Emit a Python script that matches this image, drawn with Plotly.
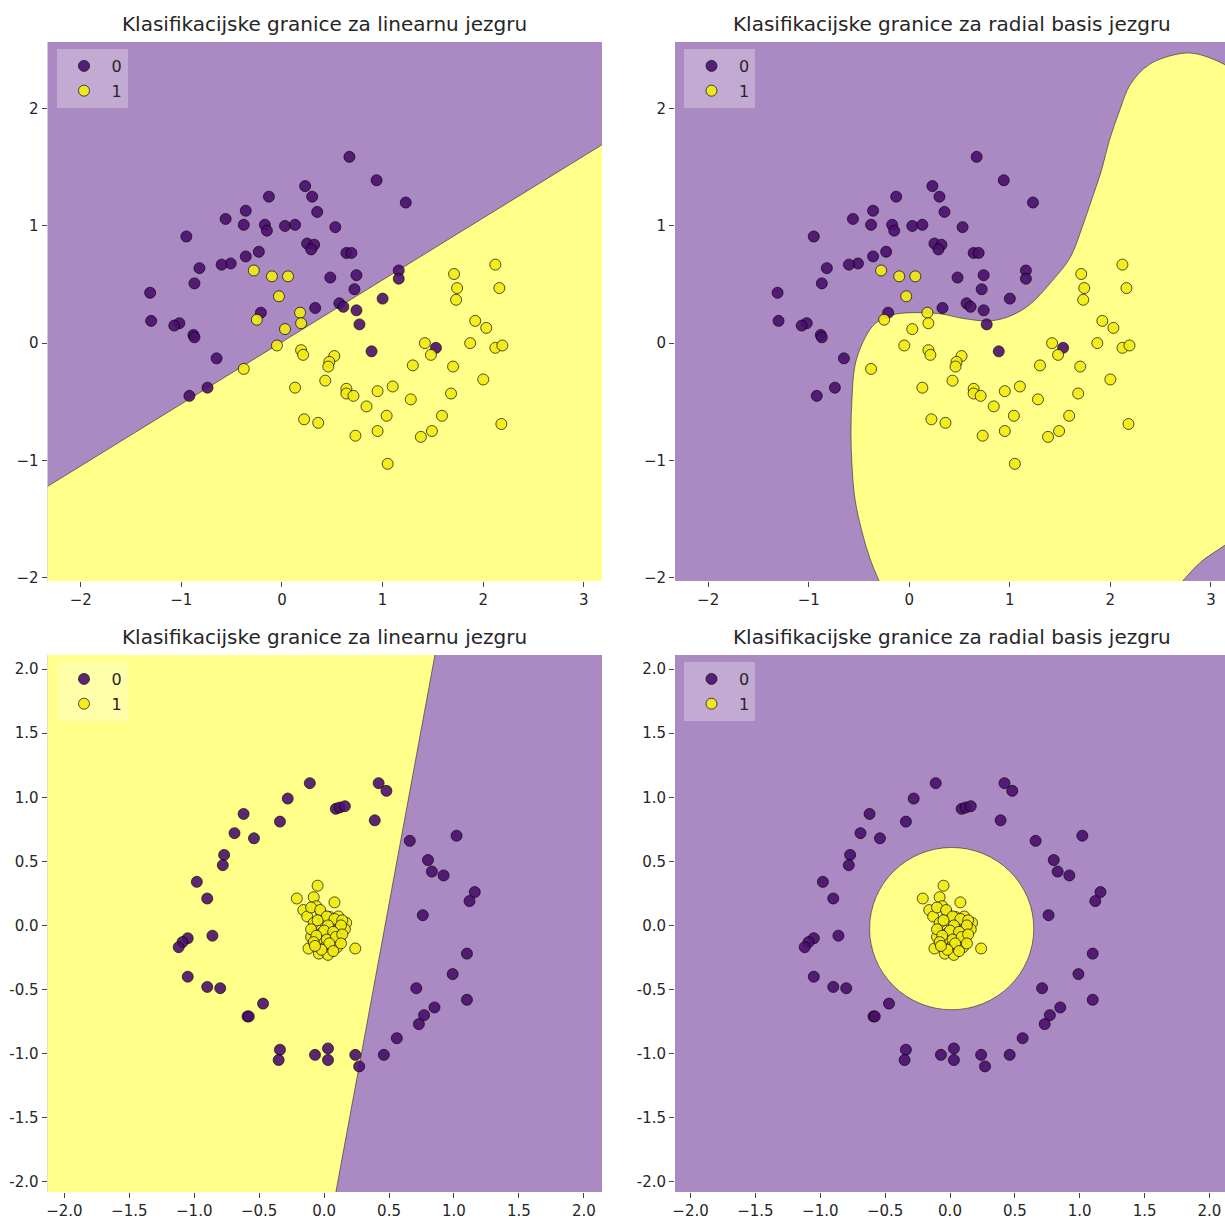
import plotly.graph_objects as go

# ---------------- data ----------------
# "moons" data set (top row)
moon0_x = [0.67, 0.94, 1.23, 0.23, 0.30, -0.13, -0.36, 0.35, -0.56, -0.38, -0.17, -0.15, 0.03, 0.13, 0.53,
           -0.95, 0.25, 0.32, 0.29, 0.64, 0.69, -0.23, -0.36, -0.51, -0.60, -0.82, 1.16, 1.16, 0.74, 0.48,
           -0.87, 0.72, -1.31, 1.00, 0.33, 0.57, 0.61, 0.74, -0.21, 0.77, -1.30, -1.02, -1.07, -0.88, -0.87,
           0.89, 1.53, -0.65, -0.74, -0.92]
moon0_y = [1.59, 1.39, 1.20, 1.34, 1.25, 1.25, 1.13, 1.12, 1.06, 1.01, 1.01, 0.96, 1.00, 1.01, 0.99,
           0.91, 0.85, 0.84, 0.80, 0.77, 0.77, 0.78, 0.74, 0.68, 0.67, 0.64, 0.62, 0.55, 0.58, 0.56,
           0.51, 0.46, 0.43, 0.38, 0.30, 0.34, 0.31, 0.28, 0.26, 0.16, 0.19, 0.17, 0.15, 0.07, 0.05,
           -0.07, -0.04, -0.13, -0.38, -0.45]
moon1_x = [-0.28, -0.10, 0.06, -0.03, -0.25, 0.18, 0.19, 0.03, -0.05, -0.38, 0.19, 0.21, 0.52, 0.47, 0.46,
           0.43, 0.13, 0.64, 0.64, 0.71, 0.84, 0.95, 1.10, 1.04, 0.22, 0.36, 0.73, 0.95, 1.05, 1.28,
           1.30, 1.42, 1.48, 1.38, 1.49, 1.59, 1.68, 1.70, 1.71, 1.74, 1.73, 2.12, 2.16, 1.92, 2.03,
           1.87, 2.12, 2.19, 2.00, 2.18]
moon1_y = [0.62, 0.57, 0.57, 0.40, 0.20, 0.26, 0.17, 0.12, -0.02, -0.22, -0.06, -0.10, -0.11, -0.16, -0.20,
           -0.32, -0.38, -0.39, -0.43, -0.45, -0.54, -0.41, -0.37, -0.62, -0.65, -0.68, -0.79, -0.75, -1.03, -0.48,
           -0.19, 0.00, -0.10, -0.80, -0.75, -0.62, -0.43, -0.20, 0.59, 0.47, 0.37, 0.67, 0.47, 0.19, 0.13,
           0.00, -0.04, -0.02, -0.31, -0.69]

# "circles" data set (bottom row)
circ0_x = [-0.11, 0.42, 0.48, -0.28, 0.09, 0.12, 0.16, -0.62, -0.34, 0.39, -0.69, -0.54, 0.66, 1.02, -0.77,
           -0.78, 0.80, 0.83, 0.92, -0.98, -0.90, 1.16, 1.12, 0.76, -1.05, -1.09, -1.12, -0.86, -1.05, -0.90,
           -0.80, 1.10, 0.99, 0.71, 1.10, 0.85, -0.47, -0.59, -0.58, 0.77, 0.73, 0.56, -0.34, -0.35, -0.07,
           0.03, 0.03, 0.24, 0.27, 0.46]
circ0_y = [1.11, 1.11, 1.05, 0.99, 0.91, 0.92, 0.93, 0.87, 0.81, 0.82, 0.72, 0.68, 0.66, 0.70, 0.55,
           0.47, 0.51, 0.42, 0.39, 0.34, 0.21, 0.26, 0.19, 0.08, -0.10, -0.13, -0.17, -0.08, -0.40, -0.48,
           -0.49, -0.22, -0.38, -0.49, -0.58, -0.64, -0.61, -0.71, -0.71, -0.70, -0.77, -0.88, -0.97, -1.05, -1.01,
           -0.96, -1.05, -1.01, -1.10, -1.01]
circ1_x = [-0.05, -0.21, -0.08, 0.08, -0.16, -0.06, -0.13, -0.02, 0.045, 0.11, -0.08, 0.00, 0.17, 0.05, 0.11,
           0.16, -0.08, -0.02, 0.05, -0.05, 0.12, -0.12, 0.01, 0.10, 0.24, -0.04, 0.03, -0.10, 0.08, -0.10,
           -0.03, 0.02, 0.08, 0.14, -0.05, 0.03, 0.13, -0.10, 0.00, 0.07, -0.06, 0.02, 0.09, 0.14, -0.08,
           0.04, 0.13, -0.02, 0.07, -0.07]
circ1_y = [0.31, 0.21, 0.22, 0.18, 0.12, 0.15, 0.07, 0.09, 0.065, 0.07, 0.02, 0.03, 0.02, -0.01, -0.03,
           -0.03, -0.065, -0.06, -0.09, -0.11, -0.10, -0.18, -0.17, -0.17, -0.18, -0.22, -0.23, -0.09, -0.13, 0.14,
           0.12, 0.07, 0.05, 0.04, 0.04, 0.00, 0.00, -0.03, -0.04, -0.05, -0.08, -0.11, -0.09, -0.07, -0.13,
           -0.14, -0.14, -0.19, -0.20, -0.16]

class_labels = ["0", "1"]

# decision boundaries
lin_moons_bx = [-2.40, 3.25]
lin_moons_by = [-1.26, 1.73]
lin_circ_bx = [0.87, 0.08]
lin_circ_by = [2.20, -2.14]
rbf_moons_bx = [-0.29, -0.39, -0.47, -0.54, -0.57, -0.58, -0.57, -0.54, -0.46, -0.36, -0.26, -0.12, 0.08,
                0.31, 0.54, 0.80, 1.00, 1.20, 1.43, 1.60, 1.72, 1.82, 1.91, 1.99, 2.09, 2.20, 2.39, 2.69,
                2.85, 3.13, 3.25]
rbf_moons_by = [-2.05, -1.84, -1.61, -1.33, -1.04, -0.76, -0.48, -0.19, 0.01, 0.15, 0.21, 0.25, 0.26,
                0.25, 0.21, 0.19, 0.23, 0.33, 0.54, 0.73, 0.99, 1.24, 1.47, 1.73, 1.98, 2.21, 2.38, 2.47,
                2.47, 2.38, 2.30]
rbf_moons_b2x = [3.25, 3.13, 2.91, 2.74, 2.70]
rbf_moons_b2y = [-1.65, -1.73, -1.86, -2.01, -2.05]
rbf_circ_cx, rbf_circ_cy, rbf_circ_r = 0.013, -0.025, 0.633

# ranges of the four panels
moons_xr = [-2.33, 3.18]
moons_xr_right = [-2.33, 3.14]
moons_yr = [-2.03, 2.57]
circ_xr = [-2.13, 2.14]
circ_xr_right = [-2.12, 2.12]
circ_yr = [-2.08, 2.11]
circ_ticks = [-2.0, -1.5, -1.0, -0.5, 0.0, 0.5, 1.0, 1.5, 2.0]
circ_yticktext = ["-2.0", "-1.5", "-1.0", "-0.5", "0.0", "0.5", "1.0", "1.5", "2.0"]

titles = ["Klasifikacijske granice za linearnu jezgru", "Klasifikacijske granice za radial basis jezgru",
          "Klasifikacijske granice za linearnu jezgru", "Klasifikacijske granice za radial basis jezgru"]

# ---------------- style ----------------
W, H = 1225, 1220
PURPLE_BG = "#ab8ac3"
YELLOW_BG = "#ffff8a"
PT_PURPLE = "#4b0f6e"
PT_YELLOW = "#f3ec12"
EDGE = "rgba(0,0,0,0.75)"
BLINE = "rgba(40,40,40,0.6)"
FONT = "DejaVu Sans"

def px_x(p):
    return p / W

def px_y(p):
    return 1 - p / H

panels = {
    1: dict(x=(47.5, 602), y=(42, 581)),
    2: dict(x=(675, 1225), y=(42, 581)),
    3: dict(x=(47.5, 602), y=(655, 1192)),
    4: dict(x=(675, 1225), y=(655, 1192)),
}

fig = go.Figure()

def ax(i):
    return ("x" if i == 1 else f"x{i}"), ("y" if i == 1 else f"y{i}")

def add_points(i, x0, y0, x1, y1):
    xa, ya = ax(i)
    lg = "legend" if i == 1 else f"legend{i}"
    for xs, ys, col, lab in [(x0, y0, PT_PURPLE, class_labels[0]), (x1, y1, PT_YELLOW, class_labels[1])]:
        fig.add_trace(go.Scatter(x=xs, y=ys, mode="markers", name=lab, xaxis=xa, yaxis=ya,
                                 legend=lg, legendgroup=f"{i}-{lab}",
                                 marker=dict(size=11, color=col, opacity=0.9, line=dict(width=1, color=EDGE)),
                                 hoverinfo="skip"))

def add_fill(i, xs, ys, shape="linear"):
    xa, ya = ax(i)
    fig.add_trace(go.Scatter(x=xs, y=ys, mode="lines", fill="toself", fillcolor=YELLOW_BG,
                             line=dict(width=0, shape=shape, color=YELLOW_BG), xaxis=xa, yaxis=ya,
                             showlegend=False, hoverinfo="skip"))

def add_bline(i, xs, ys, shape="linear"):
    xa, ya = ax(i)
    fig.add_trace(go.Scatter(x=xs, y=ys, mode="lines", line=dict(width=1, color=BLINE, shape=shape),
                             xaxis=xa, yaxis=ya, showlegend=False, hoverinfo="skip"))

# panel 1: linear, moons (yellow below the line)
add_fill(1, lin_moons_bx + [lin_moons_bx[1], lin_moons_bx[0]],
         lin_moons_by + [moons_yr[0] - 0.5, moons_yr[0] - 0.5])
add_bline(1, lin_moons_bx, lin_moons_by)
add_points(1, moon0_x, moon0_y, moon1_x, moon1_y)

# panel 2: rbf, moons
add_fill(2, rbf_moons_bx + rbf_moons_b2x + [2.5, -0.1],
         rbf_moons_by + rbf_moons_b2y + [moons_yr[0] - 0.5, moons_yr[0] - 0.5], shape="spline")
add_bline(2, rbf_moons_bx, rbf_moons_by, shape="spline")
add_bline(2, rbf_moons_b2x, rbf_moons_b2y, shape="spline")
add_points(2, moon0_x, moon0_y, moon1_x, moon1_y)

# panel 3: linear, circles (yellow left of the line)
add_fill(3, lin_circ_bx + [circ_xr[0] - 0.5, circ_xr[0] - 0.5],
         lin_circ_by + [lin_circ_by[1], lin_circ_by[0]])
add_bline(3, lin_circ_bx, lin_circ_by)
add_points(3, circ0_x, circ0_y, circ1_x, circ1_y)

# panel 4: rbf, circles (yellow disc)
fig.add_shape(type="circle", xref="x4", yref="y4",
              x0=rbf_circ_cx - rbf_circ_r, x1=rbf_circ_cx + rbf_circ_r,
              y0=rbf_circ_cy - rbf_circ_r, y1=rbf_circ_cy + rbf_circ_r,
              fillcolor=YELLOW_BG, line=dict(width=1, color=BLINE), layer="below")
add_points(4, circ0_x, circ0_y, circ1_x, circ1_y)

axis_common = dict(showgrid=False, zeroline=False, showline=False, ticks="outside", ticklen=5,
                   tickwidth=1, tickcolor="#444", automargin=False,
                   tickfont=dict(family=FONT, size=15, color="#262626"))

layout = dict(width=W, height=H, margin=dict(l=0, r=0, t=0, b=0), template="none",
              paper_bgcolor="white", plot_bgcolor=PURPLE_BG, showlegend=True)

ranges = {1: (moons_xr, moons_yr, 1), 2: (moons_xr_right, moons_yr, 1),
          3: (circ_xr, circ_yr, 0.5), 4: (circ_xr_right, circ_yr, 0.5)}

annotations = []
for i in range(1, 5):
    p = panels[i]
    xr, yr, dt = ranges[i]
    fmt = "" if dt == 1 else ".1f"
    xk = "xaxis" if i == 1 else f"xaxis{i}"
    yk = "yaxis" if i == 1 else f"yaxis{i}"
    ya_name = "y" if i == 1 else f"y{i}"
    xa_name = "x" if i == 1 else f"x{i}"
    layout[xk] = dict(axis_common, domain=[px_x(p["x"][0]), px_x(p["x"][1])], range=xr, dtick=dt,
                      tick0=0, tickformat=fmt, anchor=ya_name)
    if dt == 1:
        layout[yk] = dict(axis_common, domain=[px_y(p["y"][1]), px_y(p["y"][0])], range=yr, dtick=dt,
                          tick0=0, anchor=xa_name)
    else:
        layout[yk] = dict(axis_common, domain=[px_y(p["y"][1]), px_y(p["y"][0])], range=yr,
                          tickmode="array", tickvals=circ_ticks, ticktext=circ_yticktext, anchor=xa_name)
    lg = "legend" if i == 1 else f"legend{i}"
    layout[lg] = dict(x=px_x(p["x"][0] + 9), y=px_y(p["y"][0] + 7), xanchor="left", yanchor="top",
                      bgcolor="rgba(255,255,255,0.28)", borderwidth=0, tracegroupgap=1,
                      traceorder="grouped", itemwidth=45,
                      font=dict(family=FONT, size=16, color="#262626"))
    cx = (p["x"][0] + (p["x"][1] if i in (1, 3) else 1229)) / 2
    annotations.append(dict(text=titles[i - 1], xref="paper", yref="paper", x=px_x(cx),
                            y=px_y(p["y"][0] - 18), xanchor="center", yanchor="middle", showarrow=False,
                            font=dict(family=FONT, size=20, color="#262626")))

layout["annotations"] = annotations
fig.update_layout(**layout)

fig.write_html("out.html", config={"displayModeBar": False},
               post_script="document.body.style.margin='0px';document.body.style.overflow='hidden';")
